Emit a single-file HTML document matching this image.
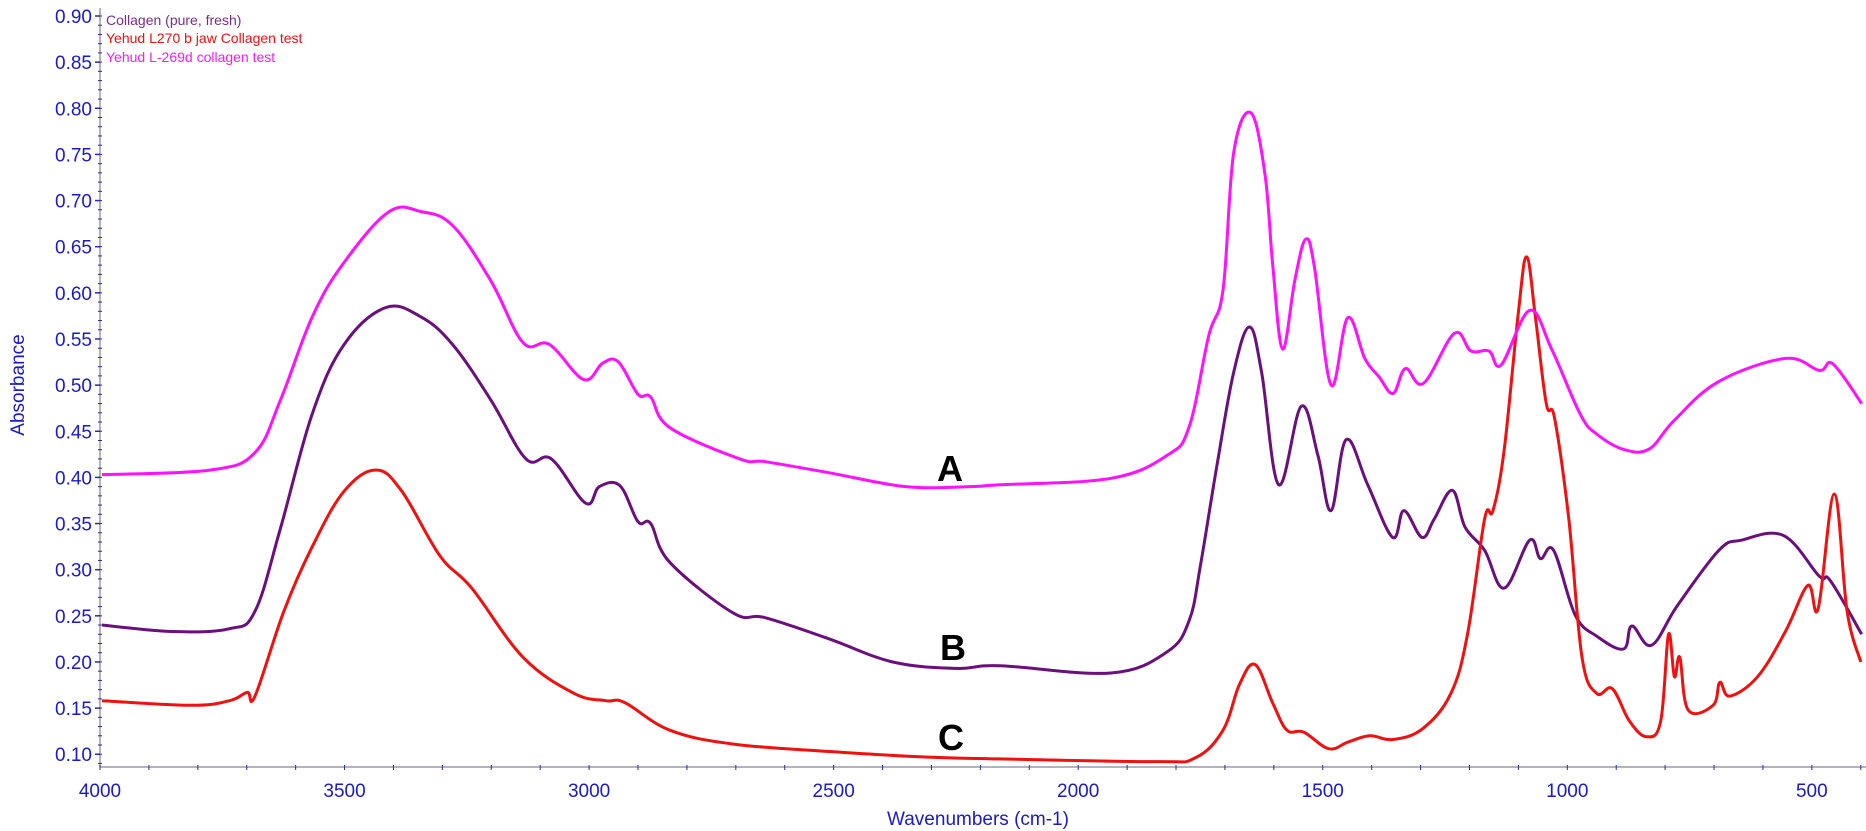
<!DOCTYPE html>
<html><head><meta charset="utf-8">
<style>
html,body{margin:0;padding:0;background:#fff;}
svg{display:block;font-family:"Liberation Sans",sans-serif;}
</style></head>
<body>
<svg id="chart" width="1866" height="831" viewBox="0 0 1866 831" xmlns="http://www.w3.org/2000/svg">
<rect width="1866" height="831" fill="#fff"/>
<g id="axes"></g>
<g id="series"></g>
<text x="0" y="0" transform="translate(24,385) rotate(-90)" text-anchor="middle" font-size="19" fill="#1a1acc">Absorbance</text>
<text x="978" y="825" text-anchor="middle" font-size="19" fill="#1a1acc">Wavenumbers (cm-1)</text>
<text x="106" y="25" font-size="14" fill="#7b2d8e">Collagen (pure, fresh)</text>
<text x="106" y="43" font-size="14" fill="#ee1111">Yehud L270 b jaw Collagen test</text>
<text x="106" y="62" font-size="14" fill="#ee22ee">Yehud L-269d collagen test</text>
<text x="950" y="481" text-anchor="middle" font-size="36" font-weight="bold" fill="#000">A</text>
<text x="953" y="660" text-anchor="middle" font-size="36" font-weight="bold" fill="#000">B</text>
<text x="951" y="750" text-anchor="middle" font-size="36" font-weight="bold" fill="#000">C</text>
</svg>
<script>
const xTicks = [4000,3500,3000,2500,2000,1500,1000,500];
const yTicks = [0.10,0.15,0.20,0.25,0.30,0.35,0.40,0.45,0.50,0.55,0.60,0.65,0.70,0.75,0.80,0.85,0.90];
const wnA = [3996,3774,3683,3631,3566,3501,3409,3344,3279,3201,3135,3081,3011,2972,2940,2900,2874,2835,2692,2640,2509,2353,2223,2160,1933,1818,1773,1733,1704,1682,1647,1618,1602,1582,1557,1535,1517,1483,1449,1414,1385,1356,1331,1294,1231,1197,1160,1135,1077,1032,974,940,883,832,781,690,554,485,457,398];
const absA = [0.403,0.408,0.427,0.484,0.574,0.633,0.688,0.688,0.673,0.613,0.546,0.544,0.506,0.524,0.525,0.490,0.487,0.454,0.420,0.417,0.405,0.390,0.390,0.392,0.399,0.424,0.455,0.554,0.603,0.752,0.795,0.728,0.628,0.539,0.614,0.658,0.628,0.500,0.573,0.529,0.509,0.491,0.518,0.502,0.556,0.537,0.537,0.522,0.581,0.539,0.469,0.447,0.430,0.431,0.462,0.504,0.529,0.516,0.523,0.480];
const wnB = [3996,3853,3735,3683,3631,3566,3501,3416,3344,3279,3201,3129,3077,3007,2979,2937,2900,2874,2835,2705,2640,2509,2379,2249,2160,1933,1818,1773,1750,1716,1682,1650,1625,1590,1544,1510,1483,1452,1408,1357,1334,1297,1272,1235,1209,1169,1129,1077,1055,1028,984,940,885,868,828,775,690,644,558,485,462,398];
const absB = [0.240,0.233,0.236,0.255,0.345,0.469,0.544,0.584,0.574,0.544,0.484,0.420,0.420,0.372,0.390,0.391,0.352,0.350,0.308,0.253,0.248,0.225,0.200,0.193,0.196,0.188,0.211,0.245,0.305,0.414,0.514,0.563,0.514,0.392,0.477,0.424,0.364,0.441,0.392,0.335,0.364,0.335,0.355,0.386,0.346,0.321,0.280,0.332,0.312,0.321,0.251,0.228,0.214,0.239,0.218,0.261,0.321,0.332,0.337,0.293,0.288,0.230];
const wnC = [3996,3814,3735,3699,3683,3624,3566,3501,3436,3383,3305,3240,3135,3031,2966,2927,2835,2705,2509,2314,2160,1841,1761,1704,1670,1638,1602,1573,1539,1488,1449,1404,1356,1295,1238,1204,1169,1152,1129,1100,1083,1065,1043,1026,997,970,940,908,873,838,809,793,781,770,753,702,688,668,611,554,508,487,454,428,400];
const absC = [0.158,0.153,0.158,0.167,0.163,0.255,0.325,0.385,0.408,0.385,0.315,0.280,0.205,0.166,0.158,0.156,0.126,0.111,0.103,0.097,0.095,0.092,0.096,0.126,0.176,0.197,0.155,0.126,0.124,0.106,0.113,0.120,0.116,0.128,0.166,0.230,0.355,0.364,0.430,0.579,0.639,0.573,0.480,0.464,0.355,0.205,0.166,0.171,0.136,0.119,0.136,0.230,0.184,0.205,0.148,0.153,0.178,0.163,0.184,0.233,0.283,0.258,0.382,0.255,0.200];

const NS = "http://www.w3.org/2000/svg";
function xs(w){ return 100 + (4000 - w) * 0.4891; }
function ys(a){ return 16 + (0.90 - a) * 922.8; }
const axes = document.getElementById('axes');
const series = document.getElementById('series');
function mk(tag, attrs, parent){
  const e = document.createElementNS(NS, tag);
  for (const k in attrs) e.setAttribute(k, attrs[k]);
  parent.appendChild(e);
  return e;
}
const yl = mk('line',{x1:100,y1:8,x2:100,y2:767,stroke:'#9a9aa8','stroke-width':1.5},axes);


const xl = mk('line',{x1:100,y1:767,x2:1866,y2:767,stroke:'#9a9aa8','stroke-width':1.5},axes);


for (let v = 0.09; v <= 0.905; v += 0.01) {
  const y = ys(v);
  const t = mk('line',{x1:98,y1:y,x2:102,y2:y,stroke:'#2a2ab0','stroke-width':1},axes);
  
  
}
yTicks.forEach(v => {
  const y = ys(v);
  const t = mk('line',{x1:95,y1:y,x2:100,y2:y,stroke:'#2a2ab0','stroke-width':1.5},axes);
  
  
  const l = mk('text',{x:92,y:y+7,'text-anchor':'end','font-size':19,fill:'#1a1acc'},axes);
  l.textContent = v.toFixed(2);
  
  
});
for (let w = 4000; w >= 400; w -= 100) {
  const x = xs(w);
  const t = mk('line',{x1:x,y1:765,x2:x,y2:770,stroke:'#2a2ab0','stroke-width':1},axes);
  
  
}
xTicks.forEach(w => {
  const x = xs(w);
  const l = mk('text',{x:x,y:797,'text-anchor':'middle','font-size':19,fill:'#1a1acc'},axes);
  l.textContent = String(w);
  
  
});
function drawLine(wn, ab, color, name){
  const P = wn.map((w,i)=>[xs(w), ys(ab[i])]);
  let d = 'M' + P[0][0].toFixed(1) + ',' + P[0][1].toFixed(1);
  const k = 0.18;
  for (let i = 0; i < P.length - 1; i++) {
    const p0 = P[Math.max(0,i-1)], p1 = P[i], p2 = P[i+1], p3 = P[Math.min(P.length-1,i+2)];
    const c1x = p1[0] + (p2[0]-p0[0])*k, c1y = p1[1] + (p2[1]-p0[1])*k;
    const c2x = p2[0] - (p3[0]-p1[0])*k, c2y = p2[1] - (p3[1]-p1[1])*k;
    d += 'C' + c1x.toFixed(1) + ',' + c1y.toFixed(1) + ' ' + c2x.toFixed(1) + ',' + c2y.toFixed(1) + ' ' + p2[0].toFixed(1) + ',' + p2[1].toFixed(1);
  }
  const p = mk('path',{d:d,fill:'none',stroke:color,'stroke-width':3,'stroke-linejoin':'round'},series);
  
  
}
drawLine(wnB, absB, '#6b0f7c', 'series-collagen-pure');
drawLine(wnC, absC, '#f01010', 'series-l270');
drawLine(wnA, absA, '#ff10ff', 'series-l269d');
</script>
</body></html>
